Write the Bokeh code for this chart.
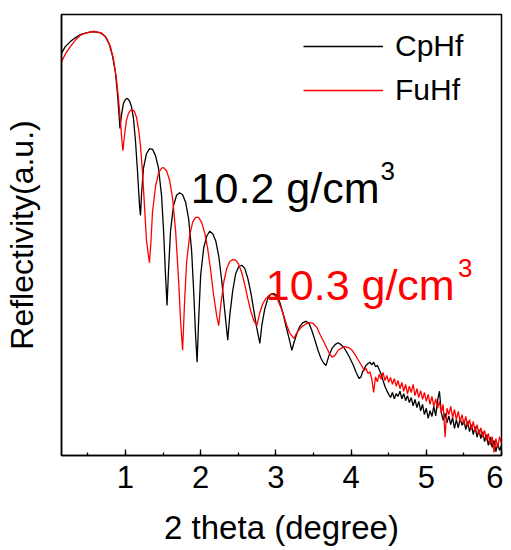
from bokeh.plotting import figure
from bokeh.models import Range1d, SingleIntervalTicker, FixedTicker, Legend, LegendItem, Label
from bokeh.embed import file_html
from bokeh.resources import INLINE
import numpy as np

# ---- data (2theta in degrees, log10 reflectivity, arbitrary offset) ----
cp_x = [0.147, 0.200, 0.267, 0.333, 0.400, 0.480, 0.573, 0.667, 0.733, 0.787, 0.827, 0.867, 0.893, 0.913, 0.927,
        0.947, 0.973, 1.000, 1.027, 1.053, 1.080, 1.107, 1.133, 1.160, 1.187, 1.200,
        1.213, 1.240, 1.280, 1.320, 1.360, 1.400, 1.440, 1.480, 1.507, 1.533, 1.553,
        1.573, 1.600, 1.640, 1.680, 1.720, 1.760, 1.800, 1.840, 1.880, 1.907, 1.933, 1.953,
        1.973, 2.000, 2.040, 2.080, 2.120, 2.160, 2.200, 2.240, 2.280, 2.320, 2.360,
        2.387, 2.427, 2.467, 2.507, 2.547, 2.587, 2.627, 2.667, 2.707, 2.747, 2.787,
        2.813, 2.853, 2.893, 2.933, 2.973, 3.013, 3.053, 3.093, 3.133, 3.173, 3.213,
        3.240, 3.280, 3.320, 3.360, 3.400, 3.440, 3.480, 3.520, 3.560, 3.600, 3.640, 3.667,
        3.707, 3.747, 3.787, 3.827, 3.867, 3.907, 3.947, 3.987, 4.027, 4.067, 4.107, 4.133]
cp_y = [-0.62, -0.51, -0.43, -0.37, -0.32, -0.29, -0.27, -0.29, -0.35, -0.48, -0.65, -0.92, -1.24, -1.56, -1.81,
        -1.60, -1.41, -1.35, -1.33, -1.37, -1.46, -1.65, -2.00, -2.48, -3.03, -3.19,
        -2.87, -2.44, -2.21, -2.13, -2.14, -2.24, -2.44, -2.87, -3.43, -4.14, -4.62,
        -4.06, -3.43, -3.03, -2.87, -2.83, -2.86, -2.98, -3.24, -3.75, -4.38, -5.10, -5.52,
        -4.86, -4.14, -3.71, -3.52, -3.44, -3.48, -3.59, -3.83, -4.22, -4.70, -5.17,
        -4.78, -4.38, -4.11, -4.00, -3.98, -4.03, -4.19, -4.41, -4.70, -4.98, -5.22,
        -4.94, -4.67, -4.51, -4.44, -4.43, -4.46, -4.57, -4.73, -4.94, -5.13, -5.33,
        -5.21, -5.06, -4.95, -4.89, -4.87, -4.90, -5.02, -5.17, -5.33, -5.46, -5.54, -5.57,
        -5.41, -5.30, -5.24, -5.21, -5.24, -5.29, -5.37, -5.46, -5.56, -5.68, -5.78, -5.75]

fu_x = [0.147, 0.200, 0.267, 0.333, 0.400, 0.480, 0.587, 0.680, 0.747, 0.800, 0.840, 0.880, 0.907, 0.933, 0.953, 0.967,
        0.987, 1.013, 1.040, 1.067, 1.093, 1.120, 1.147, 1.173, 1.200, 1.227, 1.253, 1.280, 1.307, 1.320,
        1.340, 1.360, 1.400, 1.440, 1.480, 1.507, 1.547, 1.587, 1.627, 1.667, 1.707, 1.733, 1.760,
        1.787, 1.813, 1.853, 1.893, 1.933, 1.973, 2.013, 2.053, 2.093, 2.133, 2.173, 2.213, 2.240,
        2.267, 2.307, 2.347, 2.387, 2.427, 2.467, 2.507, 2.547, 2.587, 2.627, 2.667, 2.707, 2.747,
        2.787, 2.827, 2.867, 2.907, 2.947, 2.987, 3.027, 3.067, 3.107, 3.147, 3.187, 3.240,
        3.280, 3.333, 3.387, 3.440, 3.493, 3.547, 3.587, 3.627, 3.667, 3.707, 3.747,
        3.787, 3.827, 3.867, 3.920, 3.973, 4.013, 4.053, 4.093, 4.133]
fu_y = [-0.76, -0.63, -0.51, -0.41, -0.33, -0.29, -0.27, -0.29, -0.37, -0.51, -0.70, -1.02, -1.33, -1.68, -2.00, -2.16,
        -1.92, -1.68, -1.57, -1.52, -1.51, -1.54, -1.63, -1.81, -2.08, -2.51, -3.03, -3.59, -3.83, -3.94,
        -3.59, -3.14, -2.73, -2.52, -2.44, -2.43, -2.48, -2.63, -2.92, -3.43, -4.22, -4.86, -5.33,
        -4.54, -3.94, -3.51, -3.30, -3.22, -3.22, -3.30, -3.46, -3.71, -4.06, -4.46, -4.78, -4.94,
        -4.62, -4.25, -4.03, -3.92, -3.89, -3.90, -3.97, -4.10, -4.29, -4.51, -4.71, -4.86, -4.94,
        -4.73, -4.59, -4.51, -4.46, -4.44, -4.46, -4.54, -4.65, -4.79, -4.94, -5.06, -5.14,
        -5.05, -4.97, -4.92, -4.89, -4.90, -4.97, -5.08, -5.17, -5.27, -5.37, -5.44,
        -5.41, -5.33, -5.30, -5.27, -5.29, -5.33, -5.40, -5.48, -5.56]

# noisy high-angle tail, sampled every 0.025 deg from 4.15 to 6.00
tail_x = np.round(np.arange(4.15, 6.0001, 0.025), 3)
cp_tail_y = [-5.68, -5.62, -5.57, -5.54, -5.52, -5.56, -5.52, -5.59, -5.57, -5.64,
             -5.71, -5.81, -5.90, -5.97, -6.03, -6.08, -6.00, -6.10, -6.02, -6.06,
             -5.98, -6.10, -6.02, -6.13, -6.05, -6.16, -6.08, -6.21, -6.11, -6.24,
             -6.14, -6.29, -6.19, -6.35, -6.25, -6.41, -6.29, -6.38, -6.22, -6.37,
             -6.13, -5.98, -6.32, -6.44, -6.33, -6.48, -6.37, -6.51, -6.40, -6.57,
             -6.43, -6.56, -6.41, -6.52, -6.44, -6.59, -6.46, -6.62, -6.51, -6.67,
             -6.54, -6.71, -6.59, -6.73, -6.62, -6.78, -6.67, -6.84, -6.71, -6.87,
             -6.76, -6.94, -6.81, -6.92, -6.84]
fu_tail_y = [-5.59, -5.65, -5.62, -5.70, -5.67, -5.78, -6.00, -5.75, -5.83, -5.71,
             -5.79, -5.68, -5.81, -5.73, -5.84, -5.76, -5.87, -5.78, -5.90, -5.81,
             -5.94, -5.84, -5.98, -5.87, -6.02, -5.90, -6.00, -5.87, -6.05, -5.94,
             -6.08, -5.97, -6.11, -6.00, -6.14, -6.03, -6.19, -6.06, -6.22, -6.10,
             -6.25, -6.14, -6.32, -6.19, -6.71, -6.25, -6.35, -6.22, -6.40, -6.27,
             -6.43, -6.30, -6.46, -6.35, -6.51, -6.38, -6.54, -6.43, -6.59, -6.46,
             -6.62, -6.51, -6.67, -6.56, -6.71, -6.60, -6.76, -6.65, -6.83, -6.70,
             -6.95, -6.73, -6.87, -6.70, -6.81]

series_names = ["CpHf", "FuHf"]
series_colors = ["black", "red"]
density_labels = ["10.2 g/cm", "10.3 g/cm"]

FONT = "Liberation Sans"

p = figure(width=503, height=548, output_backend="svg", toolbar_location=None,
           x_range=Range1d(0.15, 6.0), y_range=Range1d(-7.0, 0.0),
           min_border_left=61, min_border_right=2, min_border_top=14, min_border_bottom=93)
p.xgrid.visible = False
p.ygrid.visible = False
p.outline_line_color = "black"
p.outline_line_width = 1.5
p.background_fill_color = "white"
p.border_fill_color = "white"

cx = list(cp_x) + list(tail_x)
cy = list(cp_y) + list(cp_tail_y)
fx = list(fu_x) + list(tail_x)
fy = list(fu_y) + list(fu_tail_y)

r_cp = p.line(cx, cy, line_color=series_colors[0], line_width=1.3)
r_fu = p.line(fx, fy, line_color=series_colors[1], line_width=1.3)

# x axis
xa = p.xaxis[0]
xa.ticker = SingleIntervalTicker(interval=1, num_minor_ticks=2)
xa.major_tick_in = 6
xa.major_tick_out = 0
xa.minor_tick_in = 3
xa.minor_tick_out = 0
xa.axis_line_width = 1.5
xa.major_tick_line_width = 1.3
xa.minor_tick_line_width = 1.3
xa.major_label_text_font = FONT
xa.major_label_text_font_size = "31px"
xa.major_label_text_color = "black"
xa.major_label_standoff = 10
xa.axis_label = "2 theta (degree)"
xa.axis_label_text_font = FONT
xa.axis_label_text_font_size = "33px"
xa.axis_label_text_font_style = "normal"
xa.axis_label_text_color = "black"
xa.axis_label_standoff = 18

# y axis (no ticks)
ya = p.yaxis[0]
ya.ticker = FixedTicker(ticks=[])
ya.major_tick_line_color = None
ya.minor_tick_line_color = None
ya.major_label_text_font_size = "0px"
ya.axis_line_width = 1.5
ya.axis_label = "Reflectivity(a.u.)"
ya.axis_label_text_font = FONT
ya.axis_label_text_font_size = "32px"
ya.axis_label_text_font_style = "normal"
ya.axis_label_text_color = "black"
ya.axis_label_standoff = 22

# legend
legend = Legend(items=[LegendItem(label=series_names[0], renderers=[r_cp]),
                       LegendItem(label=series_names[1], renderers=[r_fu])],
                location=(242, 345), glyph_width=80, glyph_height=40, label_height=40,
                label_standoff=12, spacing=4, padding=0, margin=0,
                label_text_font=FONT, label_text_font_size="30px", label_text_color="black",
                border_line_color=None, background_fill_alpha=0)
p.add_layout(legend, "center")

# density annotations
p.add_layout(Label(x=1.867, y=-2.75, text=density_labels[0], text_color=series_colors[0],
                   text_font=FONT, text_font_size="43px", text_baseline="alphabetic"))
p.add_layout(Label(x=4.39, y=-2.48, text="3", text_color=series_colors[0],
                   text_font=FONT, text_font_size="26px", text_baseline="alphabetic"))
p.add_layout(Label(x=2.867, y=-4.30, text=density_labels[1], text_color=series_colors[1],
                   text_font=FONT, text_font_size="43px", text_baseline="alphabetic"))
p.add_layout(Label(x=5.42, y=-4.02, text="3", text_color=series_colors[1],
                   text_font=FONT, text_font_size="26px", text_baseline="alphabetic"))

open("out.html", "w").write(file_html(p, INLINE))
